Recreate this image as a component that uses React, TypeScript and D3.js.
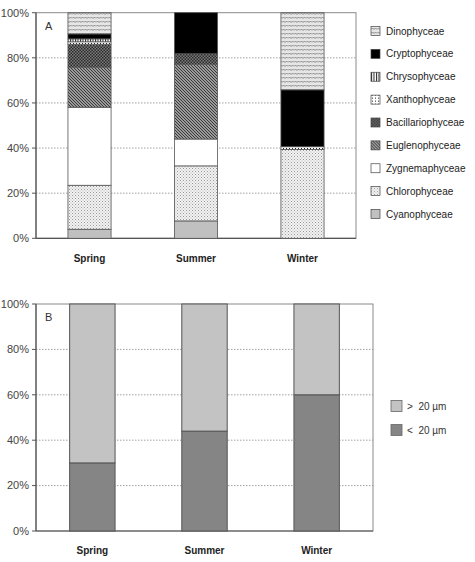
import React from "react";
import * as d3 from "d3";

// Seasons along the x axis of both panels
const seasons = ["Spring", "Summer", "Winter"];

// Algal classes, stacked bottom to top
const classes = [
  "Cyanophyceae",
  "Chlorophyceae",
  "Zygnemaphyceae",
  "Euglenophyceae",
  "Bacillariophyceae",
  "Xanthophyceae",
  "Chrysophyceae",
  "Cryptophyceae",
  "Dinophyceae",
];

// Relative abundance (%) per class, same order as `classes`
const springShare = [4, 19.5, 34.6, 17.8, 10.1, 1.1, 1.3, 2.2, 9.4];
const summerShare = [7.7, 24.4, 11.9, 33.2, 4.6, 0, 0, 18.2, 0];
const winterShare = [0, 39.4, 0, 0, 0, 1.2, 0, 25.2, 34.2];

// Size fractions (%) for panel B
const sizeClasses = ["< 20", "> 20"];
const smallShare = [30, 44, 60];
const largeShare = [70, 56, 40];

const yTicks = [0, 20, 40, 60, 80, 100];

const FONT = "'Liberation Sans', Arial, sans-serif";

const classFill: Record<string, string> = {
  Cyanophyceae: "#c0c0c0",
  Chlorophyceae: "url(#p-chloro)",
  Zygnemaphyceae: "#ffffff",
  Euglenophyceae: "url(#p-eugleno)",
  Bacillariophyceae: "url(#p-bacill)",
  Xanthophyceae: "url(#p-xantho)",
  Chrysophyceae: "url(#p-chryso)",
  Cryptophyceae: "#000000",
  Dinophyceae: "url(#p-dino)",
};

const sizeFill: Record<string, string> = { "< 20": "#858585", "> 20": "#c3c3c3" };

function Patterns() {
  return (
    <defs>
      <pattern id="p-chloro" width="3" height="3" patternUnits="userSpaceOnUse">
        <rect width="3" height="3" fill="#f2f2f2" />
        <rect x="0" y="0" width="1" height="1" fill="#9a9a9a" />
        <rect x="1.5" y="1.5" width="1" height="1" fill="#b5b5b5" />
      </pattern>
      <pattern id="p-eugleno" width="3" height="3" patternUnits="userSpaceOnUse">
        <rect width="3" height="3" fill="#9a9a9a" />
        <path d="M-1,-1 L4,4 M-1,2 L1,4 M2,-1 L4,1" stroke="#3a3a3a" strokeWidth="1" />
      </pattern>
      <pattern id="p-bacill" width="3" height="3" patternUnits="userSpaceOnUse">
        <rect width="3" height="3" fill="#7a7a7a" />
        <rect x="0" y="0" width="1.5" height="1.5" fill="#2a2a2a" />
        <rect x="1.5" y="1.5" width="1.5" height="1.5" fill="#2a2a2a" />
      </pattern>
      <pattern id="p-xantho" width="3" height="3" patternUnits="userSpaceOnUse">
        <rect width="3" height="3" fill="#ffffff" />
        <rect x="1" y="1" width="1" height="1" fill="#222" />
      </pattern>
      <pattern id="p-chryso" width="2.5" height="3" patternUnits="userSpaceOnUse">
        <rect width="2.5" height="3" fill="#ffffff" />
        <rect x="0" y="0" width="1" height="3" fill="#222" />
      </pattern>
      <pattern id="p-dino" width="6" height="4" patternUnits="userSpaceOnUse">
        <rect width="6" height="4" fill="#e6e6e6" />
        <path d="M0,2.5 L1.5,1 L3,2.5 L4.5,1 L6,2.5" fill="none" stroke="#7a7a7a" strokeWidth="0.9" />
      </pattern>
    </defs>
  );
}

type PlotProps = {
  left: number;
  right: number;
  top: number;
  bottom: number;
  letter: string;
  labelY: number;
  children: (x: d3.ScaleBand<string>, y: d3.ScaleLinear<number, number>) => React.ReactNode;
};

function Plot({ left, right, top, bottom, letter, labelY, children }: PlotProps) {
  const x = d3.scaleBand<string>().domain(seasons).range([left, right]).paddingInner(0.595).paddingOuter(0.3);
  const y = d3.scaleLinear().domain([0, 100]).range([bottom, top]);
  return (
    <g fontFamily={FONT}>
      {yTicks
        .filter((t) => t > 0 && t < 100)
        .map((t) => (
          <line key={t} x1={left} x2={right} y1={y(t)} y2={y(t)} stroke="#8a8a8a" strokeWidth={0.8} strokeDasharray="1.5,1.5" />
        ))}
      <rect x={left} y={top} width={right - left} height={bottom - top} fill="none" stroke="#8a8a8a" strokeWidth={1} />
      <line x1={left} x2={left} y1={top} y2={bottom} stroke="#555" strokeWidth={1.2} />
      <line x1={left} x2={right} y1={bottom} y2={bottom} stroke="#555" strokeWidth={1.2} />
      {children(x, y)}
      {yTicks.map((t) => (
        <g key={t}>
          <line x1={left - 4} x2={left} y1={y(t)} y2={y(t)} stroke="#555" />
          <text x={left - 7} y={y(t)} dy="0.35em" textAnchor="end" fontSize={11} fill="#444">
            {t}%
          </text>
        </g>
      ))}
      {seasons.map((s) => (
        <text key={s} x={x(s)! + x.bandwidth() / 2} y={labelY} textAnchor="middle" fontSize={10} fontWeight="bold" fill="#222">
          {s}
        </text>
      ))}
      <text x={left + 9} y={top + 17} fontSize={11} fill="#333">
        {letter}
      </text>
    </g>
  );
}

export default function App() {
  const rowsA = seasons.map((s, i) => {
    const vals = [springShare, summerShare, winterShare][i];
    const row: Record<string, number | string> = { season: s };
    classes.forEach((c, k) => (row[c] = vals[k]));
    return row;
  });
  const stackA = d3.stack<Record<string, number | string>>().keys(classes)(rowsA as any);

  const rowsB = seasons.map((s, i) => ({ season: s, "< 20": smallShare[i], "> 20": largeShare[i] }));
  const stackB = d3.stack<any>().keys(sizeClasses)(rowsB);

  const legendY = d3.scalePoint<string>().domain([...classes].reverse()).range([31, 214]);
  const legendYB = d3.scalePoint<string>().domain([...sizeClasses].reverse()).range([406, 430]);

  return (
    <svg width={475} height={562} style={{ position: "absolute", left: 0, top: 0, background: "#fff" }}>
      <Patterns />
      <Plot left={36} right={356} top={12.7} bottom={238.3} letter="A" labelY={262}>
        {(x, y) =>
          stackA.map((layer) =>
            layer.map((d, i) =>
              d[1] - d[0] > 0 ? (
                <rect
                  key={layer.key + i}
                  x={x(seasons[i])}
                  width={x.bandwidth()}
                  y={y(d[1])}
                  height={y(d[0]) - y(d[1])}
                  fill={classFill[layer.key]}
                  stroke="#555"
                  strokeWidth={0.8}
                />
              ) : null
            )
          )
        }
      </Plot>
      <Plot left={36} right={373} top={304} bottom={531} letter="B" labelY={554}>
        {(x, y) =>
          stackB.map((layer) =>
            layer.map((d, i) => (
              <rect
                key={layer.key + i}
                x={x(seasons[i])}
                width={x.bandwidth()}
                y={y(d[1])}
                height={y(d[0]) - y(d[1])}
                fill={sizeFill[layer.key]}
                stroke="#555"
                strokeWidth={1}
              />
            ))
          )
        }
      </Plot>
      <g fontFamily={FONT}>
        {classes.map((c) => (
          <g key={c} transform={`translate(371,${legendY(c)})`}>
            <rect x={0} y={-4.5} width={9} height={9} fill={classFill[c]} stroke="#444" strokeWidth={0.7} />
            <text x={15} y={0} dy="0.35em" fontSize={10} fill="#222">
              {c}
            </text>
          </g>
        ))}
        {sizeClasses.map((c) => (
          <g key={c} transform={`translate(391,${legendYB(c)})`}>
            <rect x={0} y={-5.5} width={11} height={11} fill={sizeFill[c]} stroke="#666" strokeWidth={0.8} />
            <text x={16} y={0} dy="0.35em" fontSize={10} fill="#333" xmlSpace="preserve">
              {c.replace(" ", "  ")} µm
            </text>
          </g>
        ))}
      </g>
    </svg>
  );
}
